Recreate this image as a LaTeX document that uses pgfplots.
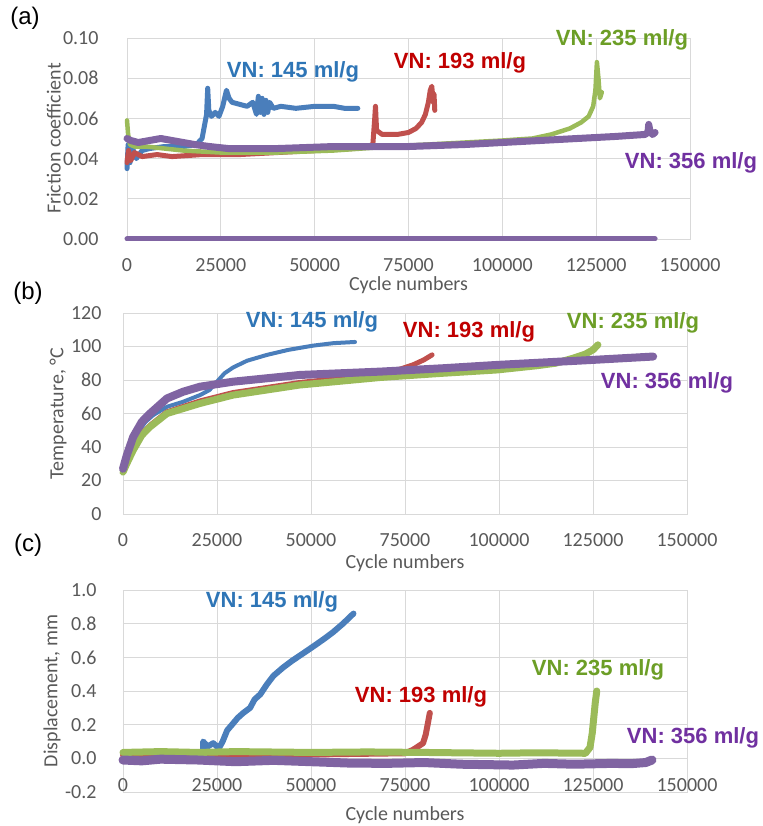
\documentclass[border=0pt]{standalone}
\usepackage{fontspec}
\setmainfont{Carlito}
\newfontfamily\arialf{Liberation Sans}
\usepackage{pgfplots}
\pgfplotsset{compat=1.18}
\definecolor{gridg}{RGB}{217,217,217}
\definecolor{labg}{RGB}{89,89,89}
\definecolor{blueD}{RGB}{74,126,187}
\definecolor{blueT}{RGB}{46,117,182}
\definecolor{redD}{RGB}{192,80,77}
\definecolor{redT}{RGB}{192,0,0}
\definecolor{greenD}{RGB}{155,187,89}
\definecolor{greenT}{RGB}{108,158,38}
\definecolor{purpD}{RGB}{128,100,162}
\definecolor{purpT}{RGB}{112,48,160}
\pgfplotsset{
  base/.style={
    scale only axis, anchor=south west,
    xmin=0, xmax=150000, xtick={0,25000,50000,75000,100000,125000,150000},
    xticklabels={0,25000,50000,75000,100000,125000,150000},
    scaled x ticks=false, scaled y ticks=false,
    grid=major, major grid style={gridg, line width=0.8bp},
    axis line style={gridg, line width=0.8bp},
    major tick length=0pt,
    tick label style={font=\fontsize{20bp}{24bp}\selectfont, text=labg},
    label style={font=\fontsize{20bp}{24bp}\selectfont, text=labg},
    xlabel={Cycle numbers},
    clip=false,
    every axis plot/.append style={no marks, line join=round, line cap=round},
  },
}
\tikzset{ann/.style={font=\arialf\bfseries\fontsize{22bp}{26bp}\selectfont}}
\begin{document}
\begin{tikzpicture}
\useasboundingbox (0,0) rectangle (763bp,826bp);
% ---------------- (a)
\begin{axis}[base, at={(127bp,587bp)}, width=563bp, height=201bp,
  ymin=0, ymax=0.1, ytick={0,0.02,0.04,0.06,0.08,0.1},
  yticklabels={0.00,0.02,0.04,0.06,0.08,0.10},
  yticklabel style={anchor=east, xshift=-25bp},
  xticklabel style={anchor=center, yshift=-26bp},
  ylabel={Friction coefficient},
  ylabel style={at={(axis description cs:-0.13,0.5)}, anchor=center},
  xlabel style={at={(axis description cs:0.5,-0.232)}, anchor=center},
]
\addplot[blueD, line width=5bp] coordinates {(0,0.035)(300,0.047)(800,0.038)(1500,0.045)(2500,0.040)(4000,0.044)(6000,0.045)(10000,0.046)(15000,0.046)(18500,0.047)(20000,0.050)(20800,0.058)(21200,0.062)(21500,0.075)(21800,0.064)(22500,0.061)(23500,0.063)(24500,0.061)(25500,0.066)(26500,0.074)(27200,0.070)(28000,0.068)(30000,0.067)(32000,0.066)(33500,0.068)(34500,0.062)(35000,0.071)(35500,0.063)(36000,0.070)(36500,0.062)(37000,0.069)(37500,0.063)(38000,0.068)(39000,0.065)(41000,0.066)(45000,0.065)(50000,0.066)(55000,0.066)(58000,0.065)(61500,0.065)};
\addplot[redD, line width=5bp] coordinates {(0,0.038)(400,0.044)(1000,0.039)(2000,0.043)(4000,0.041)(8000,0.042)(12000,0.041)(20000,0.042)(30000,0.042)(40000,0.043)(50000,0.044)(60000,0.045)(64000,0.046)(65500,0.047)(66000,0.060)(66200,0.066)(66500,0.054)(68000,0.052)(72000,0.052)(75000,0.053)(77000,0.055)(78500,0.058)(79500,0.062)(80300,0.068)(80800,0.074)(81200,0.076)(81600,0.068)(81800,0.072)(82000,0.064)};
\addplot[greenD, line width=4.5bp] coordinates {(0,0.059)(300,0.052)(800,0.047)(2000,0.046)(5000,0.046)(10000,0.045)(15000,0.044)(25000,0.043)(40000,0.043)(55000,0.044)(70000,0.046)(80000,0.047)(90000,0.048)(100000,0.049)(108000,0.050)(113000,0.052)(118000,0.055)(121000,0.058)(123000,0.061)(124200,0.066)(124800,0.074)(125200,0.088)(125600,0.080)(126000,0.070)(126500,0.073)};
\addplot[purpD, line width=7bp] coordinates {(0,0.050)(1000,0.049)(3000,0.048)(6000,0.049)(9000,0.050)(12000,0.049)(15000,0.048)(18000,0.047)(22000,0.046)(27000,0.045)(40000,0.045)(55000,0.046)(75000,0.046)(90000,0.047)(100000,0.048)(110000,0.049)(120000,0.050)(130000,0.051)(138000,0.052)(138800,0.053)(139000,0.057)(139300,0.054)(140000,0.052)(140700,0.053)};
\addplot[purpD, line width=5bp] coordinates {(0,0)(140700,0)};
\end{axis}
% ---------------- (b)
\begin{axis}[base, at={(123bp,312bp)}, width=564bp, height=201bp,
  ymin=0, ymax=120, ytick={0,20,40,60,80,100,120},
  yticklabels={0,20,40,60,80,100,120},
  yticklabel style={anchor=east, xshift=-18bp},
  xticklabel style={anchor=center, yshift=-26.5bp},
  ylabel={Temperature, °C},
  ylabel style={at={(axis description cs:-0.115,0.5)}, anchor=center},
  xlabel style={at={(axis description cs:0.5,-0.244)}, anchor=center},
]
\addplot[blueD, line width=4bp] coordinates {(0,27)(1000,33)(2500,42)(4000,49)(6000,55)(8000,59)(11700,64)(16000,67)(20500,71)(23000,74)(25000,79)(27000,84)(29300,87.5)(33000,91.5)(38300,95)(44000,98)(50500,100.5)(56000,102)(61700,102.7)};
\addplot[redD, line width=5bp] coordinates {(0,26)(1000,31)(2700,39)(5000,48)(7200,53)(11700,61)(20500,67.5)(29300,72.5)(47000,78.5)(60000,81.5)(68400,84)(73000,86)(77100,89)(80000,92)(82200,95)};
\addplot[greenD, line width=7bp] coordinates {(0,25)(1000,30)(2700,38)(5000,47)(7200,52)(11700,60)(20500,66)(29300,71)(47000,77)(68400,81.5)(85000,84)(99500,86)(110000,88.5)(115000,90)(119700,93)(123000,95.5)(125000,98)(126300,101)};
\addplot[purpD, line width=8bp] coordinates {(0,27)(1000,35)(2700,46)(5000,55)(7200,60)(11700,69)(16000,73)(20500,76)(29300,79)(47000,83)(68400,85)(85000,87)(99500,89)(125000,92)(141000,94)};
\end{axis}
% ---------------- (c)
\begin{axis}[base, at={(123bp,34bp)}, width=564bp, height=202bp,
  ymin=-0.2, ymax=1.0, ytick={-0.2,0,0.2,0.4,0.6,0.8,1.0},
  yticklabels={-0.2,0.0,0.2,0.4,0.6,0.8,1.0},
  yticklabel style={anchor=east, xshift=-23bp},
  xticklabel style={anchor=center, yshift=7bp},
  ylabel={Displacement, mm},
  ylabel style={at={(axis description cs:-0.126,0.5)}, anchor=center},
  xlabel style={at={(axis description cs:0.5,-0.114)}, anchor=center},
]
\addplot[blueD, line width=6bp] coordinates {(0,-0.01)(3000,-0.02)(6000,0.0)(10000,-0.01)(15000,0.0)(21000,0.0)(21300,0.05)(21300,0.10)(22500,0.07)(24000,0.09)(25500,0.06)(26500,0.10)(27700,0.166)(29000,0.20)(30500,0.24)(32000,0.27)(33800,0.30)(35000,0.35)(36500,0.38)(38300,0.44)(40000,0.49)(42600,0.54)(45000,0.58)(47000,0.61)(49000,0.64)(51600,0.68)(53500,0.71)(55900,0.75)(58500,0.80)(61300,0.86)};
\addplot[redD, line width=6bp] coordinates {(0,0.02)(40000,0.02)(75000,0.03)(77100,0.05)(79800,0.09)(80500,0.14)(81100,0.21)(81600,0.27)};
\addplot[greenD, line width=7bp] coordinates {(0,0.035)(10000,0.04)(20000,0.035)(30000,0.04)(50000,0.035)(65000,0.038)(80000,0.035)(100000,0.03)(110000,0.033)(123000,0.03)(124200,0.065)(124800,0.15)(125200,0.24)(125600,0.33)(126000,0.40)};
\addplot[purpD, line width=9bp] coordinates {(0,-0.01)(5000,-0.015)(10000,-0.005)(20000,-0.01)(30000,-0.02)(40000,-0.012)(50000,-0.02)(60000,-0.028)(70000,-0.03)(80000,-0.025)(90000,-0.035)(103700,-0.04)(112000,-0.03)(120000,-0.035)(130000,-0.03)(135000,-0.032)(139000,-0.025)(140700,-0.01)};
\end{axis}
% ---------------- annotations
\node[ann, text=blueT] at (293bp,754bp) {VN: 145 ml/g};
\node[ann, text=redT] at (460bp,763bp) {VN: 193 ml/g};
\node[ann, text=greenT] at (622bp,786bp) {VN: 235 ml/g};
\node[ann, text=purpT] at (691bp,663bp) {VN: 356 ml/g};
\node[ann, text=blueT] at (312bp,504bp) {VN: 145 ml/g};
\node[ann, text=redT] at (469bp,494bp) {VN: 193 ml/g};
\node[ann, text=greenT] at (633bp,503bp) {VN: 235 ml/g};
\node[ann, text=purpT] at (667bp,443bp) {VN: 356 ml/g};
\node[ann, text=blueT] at (272bp,224bp) {VN: 145 ml/g};
\node[ann, text=redT] at (421bp,129bp) {VN: 193 ml/g};
\node[ann, text=greenT] at (598bp,156bp) {VN: 235 ml/g};
\node[ann, text=purpT] at (693bp,88bp) {VN: 356 ml/g};
\node[font=\arialf\fontsize{24bp}{28bp}\selectfont] at (25bp,808bp) {(a)};
\node[font=\arialf\fontsize{24bp}{28bp}\selectfont] at (28bp,533bp) {(b)};
\node[font=\arialf\fontsize{24bp}{28bp}\selectfont] at (28bp,281bp) {(c)};
\end{tikzpicture}
\end{document}
